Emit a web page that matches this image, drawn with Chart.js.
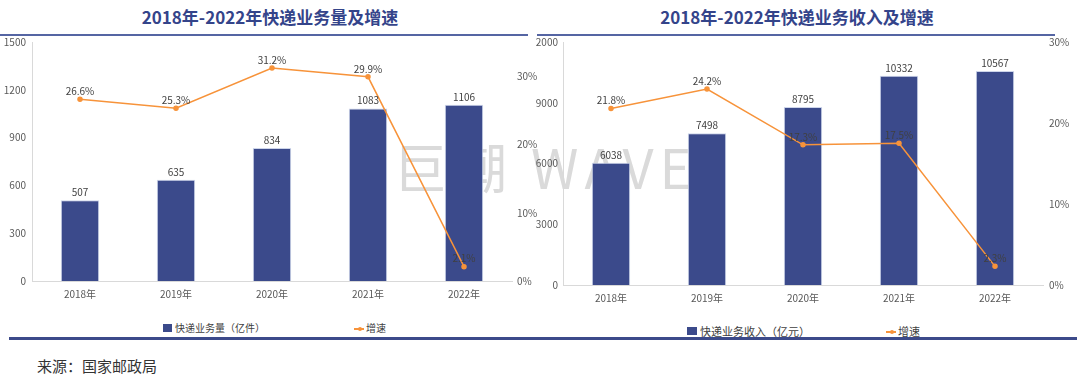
<!DOCTYPE html>
<html lang="zh">
<head>
<meta charset="UTF-8">
<title>2018年-2022年快递业务量及收入</title>
<script src="https://cdn.jsdelivr.net/npm/chart.js@4.4.0/dist/chart.umd.min.js"></script>
<style>
  body { margin: 0; width: 1080px; height: 389px; background: #fff; position: relative; overflow: hidden;
         font-family: "Noto Sans CJK SC", sans-serif; }
  .abs { position: absolute; }
  .title { top: 5px; width: 540px; line-height: 24px; font-size: 17px; font-weight: bold; color: #34448a; text-align: center; }
  .rule { height: 2px; background: #5565a3; top: 34px; }
  .legend { font-size: 10px; color: #404040; line-height: 14px; white-space: nowrap; }
  .box { width: 9px; height: 8px; background: #3b4a8b; }
  .mark { width: 10px; height: 1.5px; background: #f7933a; }
  .mark::after { content: ""; position: absolute; left: 3.5px; top: -1.5px; width: 4px; height: 4px; border-radius: 50%; background: #f7933a; }
  .wm { top: 126px; left: 393px; font-size: 54px; letter-spacing: 6px; color: #dadada; white-space: nowrap; }
</style>
</head>
<body>
<!-- watermark sits under the charts -->
<div class="abs wm">巨潮 WAVE</div>

<div class="abs title" style="left:0">2018年-2022年快递业务量及增速</div>
<div class="abs title" style="left:527px">2018年-2022年快递业务收入及增速</div>
<div class="abs rule" style="left:0; width:528px"></div>
<div class="abs rule" style="left:537px; width:518px"></div>

<canvas id="volChart" class="abs" width="540" height="275" style="left:0; top:30px"></canvas>
<canvas id="revChart" class="abs" width="540" height="279" style="left:535px; top:30px"></canvas>

<div class="abs box" style="left:163px; top:324px"></div>
<div class="abs legend" style="left:175px; top:321px">快递业务量（亿件）</div>
<div class="abs mark" style="left:354px; top:328px"></div>
<div class="abs legend" style="left:366px; top:321px">增速</div>

<div class="abs box" style="left:687px; top:327px; width:10px"></div>
<div class="abs legend" style="left:700px; top:324px; font-size:11px">快递业务收入（亿元）</div>
<div class="abs mark" style="left:886px; top:331px"></div>
<div class="abs legend" style="left:898px; top:324px; font-size:11px">增速</div>

<div class="abs" style="left:9px; top:337px; width:1068px; height:3px; background:#3c4a8a"></div>
<div class="abs" style="left:37px; top:355px; font-size:15px; color:#333">来源：国家邮政局</div>

<script>
const years = ['2018年', '2019年', '2020年', '2021年', '2022年'];
const volume = [507, 635, 834, 1083, 1106];
const volumeGrowth = [26.6, 25.3, 31.2, 29.9, 2.1];
const revenue = [6038, 7498, 8795, 10332, 10567];
const revenueGrowth = [21.8, 24.2, 17.3, 17.5, 2.3];

const FONT = '"Noto Sans CJK SC", sans-serif';
const BAR = '#3b4a8b';
const LINE = '#f7933a';
const TICK = '#595959';

// draws the number above each bar and each point
const valueLabels = {
  id: 'valueLabels',
  afterDatasetsDraw(chart) {
    const ctx = chart.ctx;
    ctx.save();
    ctx.font = '10px ' + FONT;
    ctx.fillStyle = '#404040';
    ctx.textAlign = 'center';
    ctx.textBaseline = 'middle';
    chart.data.datasets.forEach((ds, i) => {
      chart.getDatasetMeta(i).data.forEach((el, j) => {
        const v = ds.data[j];
        const txt = ds.type === 'line' ? v.toFixed(1) + '%' : String(v);
        ctx.fillText(txt, el.x, el.y - 8);
      });
    });
    ctx.restore();
  }
};

function makeChart(id, bars, growth, o) {
  return new Chart(document.getElementById(id), {
    data: {
      labels: years,
      datasets: [
        { type: 'line', data: growth, yAxisID: 'y1', order: 0,
          borderColor: LINE, backgroundColor: LINE, borderWidth: 1.5,
          pointRadius: 2, pointHoverRadius: 2, tension: 0 },
        { type: 'bar', data: bars, yAxisID: 'y', order: 1,
          backgroundColor: BAR, borderColor: 'rgba(200,208,232,0.9)', borderWidth: 1,
          categoryPercentage: 1, barPercentage: 0.4 }
      ]
    },
    options: {
      responsive: false,
      animation: false,
      devicePixelRatio: 1,
      layout: { padding: { top: 12, left: 0, right: 0, bottom: 0 } },
      plugins: { legend: { display: false }, tooltip: { enabled: false } },
      scales: {
        x: {
          grid: { display: false, drawTicks: false },
          border: { color: '#d9d9d9' },
          ticks: { color: TICK, font: { size: 10, family: FONT }, padding: 7 },
          afterFit(s) { s.height = 24; }
        },
        y: {
          position: 'left', min: 0, max: o.yMax,
          grid: { display: false, drawTicks: false },
          border: { display: true, color: '#d9d9d9' },
          ticks: { stepSize: o.yStep, color: TICK, font: { size: 10, family: FONT }, padding: o.yPad,
                   callback: o.yLabel || (v => v) },
          afterFit(s) { s.width = o.leftW; }
        },
        y1: {
          position: 'right', min: 0, max: o.y1Max,
          grid: { display: false, drawTicks: false },
          border: { display: false },
          ticks: { stepSize: 10, color: TICK, font: { size: 10, family: FONT }, padding: o.y1Pad,
                   callback: v => v + '%' },
          afterBuildTicks(s) { s.ticks = s.ticks.filter(t => t.value <= 30.001); },
          afterFit(s) { s.width = o.rightW; }
        }
      }
    },
    plugins: [valueLabels]
  });
}

makeChart('volChart', volume, volumeGrowth,
  { yMax: 1500, yStep: 300, y1Max: 35, leftW: 32, rightW: 28, yPad: 6, y1Pad: 5 });
makeChart('revChart', revenue, revenueGrowth,
  { yMax: 12000, yStep: 3000, y1Max: 30, leftW: 28, rightW: 32, yPad: 5, y1Pad: 6,
    yLabel: v => (v === 12000 ? '2000' : v) });
</script>
</body>
</html>
